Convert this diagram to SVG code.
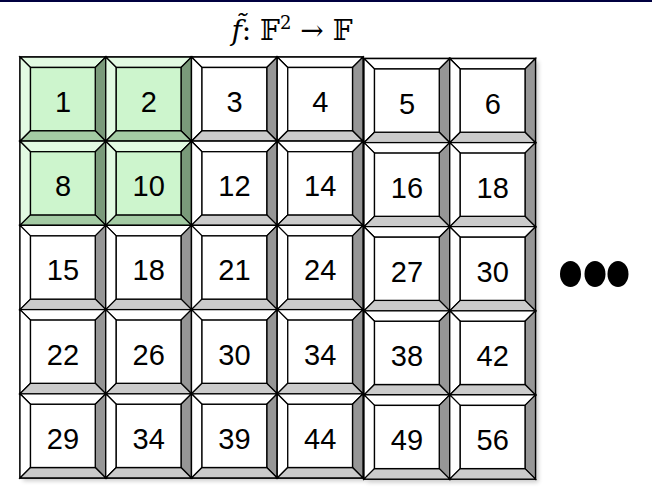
<svg xmlns="http://www.w3.org/2000/svg" xmlns:xlink="http://www.w3.org/1999/xlink" width="652" height="498" viewBox="0 0 652 498">
<style>
.num{font-family:"Liberation Sans",Arial,sans-serif;font-size:29px;fill:#000;text-anchor:middle}
.ttl{font-family:"DejaVu Serif","Liberation Serif",serif;font-size:28px;fill:#000}
.b{stroke:#000;stroke-width:1.3;stroke-linejoin:miter}
</style>
<defs>
<filter id="sh" x="-10%" y="-10%" width="120%" height="120%"><feGaussianBlur stdDeviation="2"/></filter>
<g id="tw">
<rect class="b" x="0" y="0" width="85.75" height="84.2" fill="#fff"/>
<polygon class="b" points="0,0 85.75,0 75.25,10.5 10.5,10.5" fill="#fff"/>
<polygon class="b" points="0,0 10.5,10.5 10.5,73.7 0,84.2" fill="#fff"/>
<polygon class="b" points="85.75,0 85.75,84.2 75.25,73.7 75.25,10.5" fill="#969696"/>
<polygon class="b" points="0,84.2 85.75,84.2 75.25,73.7 10.5,73.7" fill="#cbcbcb"/>
<rect class="b" x="10.5" y="10.5" width="64.75" height="63.2" fill="#fff"/>
</g>
<g id="tg">
<rect class="b" x="0" y="0" width="85.75" height="84.2" fill="#cdf5cd"/>
<polygon class="b" points="0,0 85.75,0 75.25,10.5 10.5,10.5" fill="#e2fae2"/>
<polygon class="b" points="0,0 10.5,10.5 10.5,73.7 0,84.2" fill="#e2fae2"/>
<polygon class="b" points="85.75,0 85.75,84.2 75.25,73.7 75.25,10.5" fill="#7a9a7a"/>
<polygon class="b" points="0,84.2 85.75,84.2 75.25,73.7 10.5,73.7" fill="#a4cba4"/>
<rect class="b" x="10.5" y="10.5" width="64.75" height="63.2" fill="#cdf5cd"/>
</g>
</defs>
<rect x="0" y="0" width="652" height="2" fill="#000040"/>
<text class="ttl" x="292" y="40" text-anchor="middle"><tspan font-style="italic">f̃</tspan>: 𝔽<tspan font-size="18" dy="-11">2</tspan><tspan dy="11"> → 𝔽</tspan></text>
<g id="shadows" fill="#000" opacity="0.2" filter="url(#sh)">
<rect x="23" y="60" width="343" height="421"/>
<rect x="367" y="61.5" width="171.5" height="421"/>
</g>
<g id="r1c1"><use xlink:href="#tg" x="20" y="57"/><text class="num" x="63" y="112">1</text></g>
<g id="r1c2"><use xlink:href="#tg" x="105.75" y="57"/><text class="num" x="148.75" y="112">2</text></g>
<g id="r1c3"><use xlink:href="#tw" x="191.5" y="57"/><text class="num" x="234.5" y="112">3</text></g>
<g id="r1c4"><use xlink:href="#tw" x="277.25" y="57"/><text class="num" x="320.25" y="112">4</text></g>
<g id="r1c5"><use xlink:href="#tw" x="364" y="58.5"/><text class="num" x="407" y="113.5">5</text></g>
<g id="r1c6"><use xlink:href="#tw" x="449.75" y="58.5"/><text class="num" x="492.75" y="113.5">6</text></g>
<g id="r2c1"><use xlink:href="#tg" x="20" y="141.2"/><text class="num" x="63" y="196.2">8</text></g>
<g id="r2c2"><use xlink:href="#tg" x="105.75" y="141.2"/><text class="num" x="148.75" y="196.2">10</text></g>
<g id="r2c3"><use xlink:href="#tw" x="191.5" y="141.2"/><text class="num" x="234.5" y="196.2">12</text></g>
<g id="r2c4"><use xlink:href="#tw" x="277.25" y="141.2"/><text class="num" x="320.25" y="196.2">14</text></g>
<g id="r2c5"><use xlink:href="#tw" x="364" y="142.6"/><text class="num" x="407" y="197.6">16</text></g>
<g id="r2c6"><use xlink:href="#tw" x="449.75" y="142.6"/><text class="num" x="492.75" y="197.6">18</text></g>
<g id="r3c1"><use xlink:href="#tw" x="20" y="225.4"/><text class="num" x="63" y="280.4">15</text></g>
<g id="r3c2"><use xlink:href="#tw" x="105.75" y="225.4"/><text class="num" x="148.75" y="280.4">18</text></g>
<g id="r3c3"><use xlink:href="#tw" x="191.5" y="225.4"/><text class="num" x="234.5" y="280.4">21</text></g>
<g id="r3c4"><use xlink:href="#tw" x="277.25" y="225.4"/><text class="num" x="320.25" y="280.4">24</text></g>
<g id="r3c5"><use xlink:href="#tw" x="364" y="226.7"/><text class="num" x="407" y="281.7">27</text></g>
<g id="r3c6"><use xlink:href="#tw" x="449.75" y="226.7"/><text class="num" x="492.75" y="281.7">30</text></g>
<g id="r4c1"><use xlink:href="#tw" x="20" y="309.6"/><text class="num" x="63" y="364.6">22</text></g>
<g id="r4c2"><use xlink:href="#tw" x="105.75" y="309.6"/><text class="num" x="148.75" y="364.6">26</text></g>
<g id="r4c3"><use xlink:href="#tw" x="191.5" y="309.6"/><text class="num" x="234.5" y="364.6">30</text></g>
<g id="r4c4"><use xlink:href="#tw" x="277.25" y="309.6"/><text class="num" x="320.25" y="364.6">34</text></g>
<g id="r4c5"><use xlink:href="#tw" x="364" y="310.8"/><text class="num" x="407" y="365.8">38</text></g>
<g id="r4c6"><use xlink:href="#tw" x="449.75" y="310.8"/><text class="num" x="492.75" y="365.8">42</text></g>
<g id="r5c1"><use xlink:href="#tw" x="20" y="393.8"/><text class="num" x="63" y="448.8">29</text></g>
<g id="r5c2"><use xlink:href="#tw" x="105.75" y="393.8"/><text class="num" x="148.75" y="448.8">34</text></g>
<g id="r5c3"><use xlink:href="#tw" x="191.5" y="393.8"/><text class="num" x="234.5" y="448.8">39</text></g>
<g id="r5c4"><use xlink:href="#tw" x="277.25" y="393.8"/><text class="num" x="320.25" y="448.8">44</text></g>
<g id="r5c5"><use xlink:href="#tw" x="364" y="394.9"/><text class="num" x="407" y="449.9">49</text></g>
<g id="r5c6"><use xlink:href="#tw" x="449.75" y="394.9"/><text class="num" x="492.75" y="449.9">56</text></g>
<g id="ellipsis" fill="#000">
<ellipse cx="570.5" cy="274" rx="10.5" ry="13"/>
<ellipse cx="595" cy="274" rx="10.5" ry="13"/>
<ellipse cx="618" cy="274" rx="10.5" ry="13"/>
</g>
</svg>
